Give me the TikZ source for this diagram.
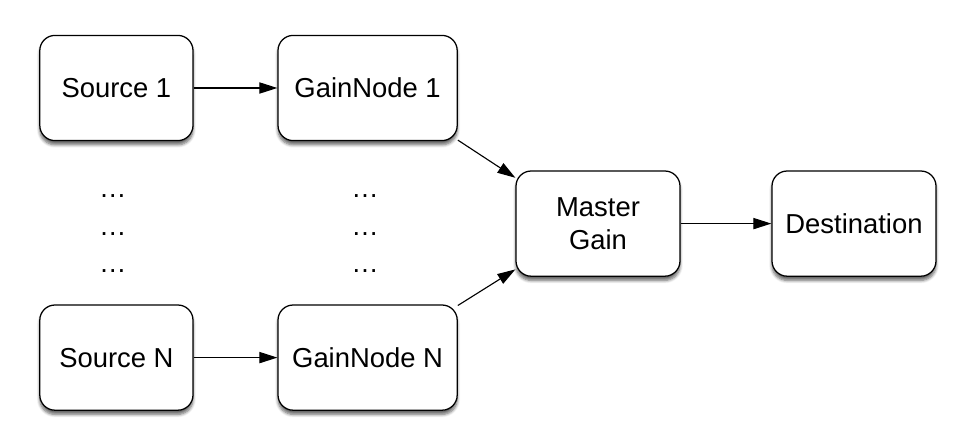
\documentclass[tikz,border=0pt]{standalone}
\usepackage{fontspec}
\setmainfont{Liberation Sans}
\usetikzlibrary{arrows.meta,shadows.blur}
\tikzset{
  block/.style={draw, line width=0.9pt, rounded corners=0.38cm, fill=white,
    blur shadow={shadow xshift=0pt, shadow yshift=-3pt, shadow blur steps=6, shadow opacity=60},
    minimum height=2.63cm, align=center, font=\fontsize{19.5}{23}\selectfont},
  link/.style={line width=0.8pt, -{Triangle[length=0.45cm, width=0.28cm]}},
  dots/.style={font=\fontsize{19.5}{23}\selectfont}
}
\begin{document}
\begin{tikzpicture}
            \useasboundingbox (0,0) rectangle (24.3,-11.15);
            %Nodes
            \node[block, minimum width=3.83cm] at (2.91,-2.2)   (s1) {Source 1};
            \node[block, minimum width=4.48cm] at (9.19,-2.2)   (g1) {GainNode 1};
            \node[block, minimum width=3.83cm] at (2.91,-8.94)  (sn) {Source N};
            \node[block, minimum width=4.48cm] at (9.19,-8.94)  (gn) {GainNode N};
            \node[block, minimum width=4.1cm]  at (14.95,-5.59) (mg) {Master\\Gain};
            \node[block, minimum width=4.1cm]  at (21.35,-5.59) (dst) {Destination};

            \node[dots] at (2.82,-4.9)  (sd1) {\dots};
            \node[dots] at (2.82,-5.85) (sd2) {\dots};
            \node[dots] at (2.82,-6.78) (sd3) {\dots};
            \node[dots] at (9.13,-4.9)  (gd1) {\dots};
            \node[dots] at (9.13,-5.85) (gd2) {\dots};
            \node[dots] at (9.13,-6.78) (gd3) {\dots};

            %Lines
            \draw[link] (s1)     -- (g1);
            \draw[link] (sn)     -- (gn);
            \draw[link] (g1.-30) -- (mg.151);
            \draw[link] (gn.30)  -- (mg.209);
            \draw[link] (mg)     -- (dst);
        \end{tikzpicture}
\end{document}
